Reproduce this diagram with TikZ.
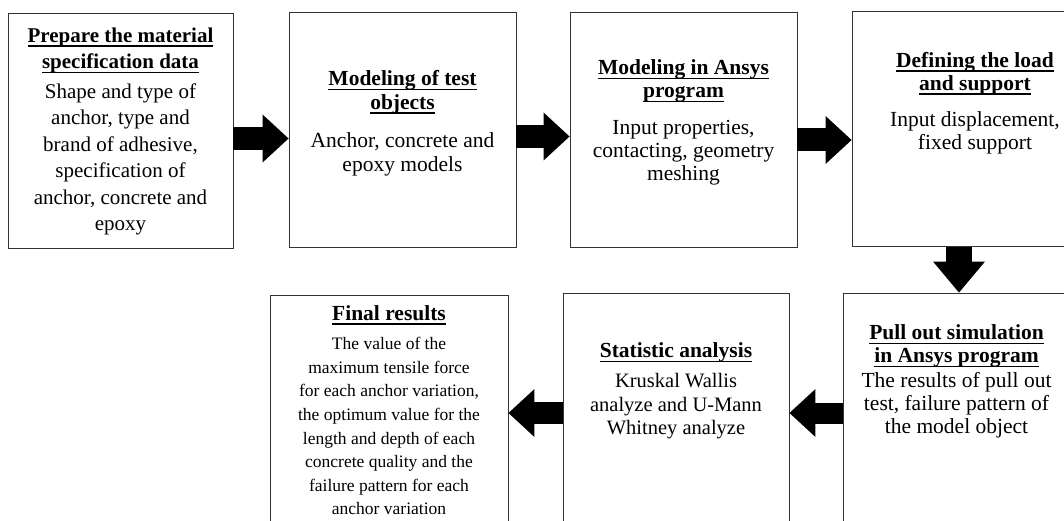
\documentclass[tikz,border=0pt]{standalone}
\usepackage{fontspec}
\setmainfont{Liberation Serif}
\usetikzlibrary{arrows.meta,positioning}

\newsavebox{\hdbox}
\newcommand{\hdline}[1]{\sbox\hdbox{\bfseries #1}\rlap{\rule[-4.5pt]{\wd\hdbox}{1.5pt}}\usebox\hdbox}

\tikzset{
  stepbox/.style={draw=black!80, line width=0.9pt, minimum height=235pt, inner sep=0pt},
  steptext/.style={align=center, inner sep=0pt},
  blockarrow/.style={line width=23pt, -{Triangle[length=26pt,width=48pt,line width=0pt]}},
}

\begin{document}
\begin{tikzpicture}[x=1pt,y=-1pt]
\clip (0,0) rectangle (1064,521);
\node[stepbox, minimum width=225pt] (prep) at (120.5,130.5) {};
\node[stepbox, minimum width=227pt] (model) at (402.5,129.5) {};
\node[stepbox, minimum width=227pt] (ansys) at (683.5,129.5) {};
\node[stepbox, minimum width=246pt] (load) at (975,129) {};
%============
\node[stepbox, minimum width=227pt] (pull) at (956.5,410.5) {};
\node[stepbox, minimum width=226pt] (stat) at (676,410.5) {};
\node[stepbox, minimum width=238pt] (final) at (389,412.5) {};
%============
\node[steptext, font=\fontsize{21}{26.5}\selectfont, below=15pt of prep.north] (prep-t) {\hdline{Prepare the material}\\\hdline{specification data}\\[3pt]Shape and type of\\anchor, type and\\brand of adhesive,\\specification of\\anchor, concrete and\\epoxy};
\node[steptext, font=\fontsize{21.5}{23.5}\selectfont, below=59pt of model.north] (model-t) {\hdline{Modeling of test}\\\hdline{objects}\\[15pt]Anchor, concrete and\\epoxy models};
\node[steptext, font=\fontsize{21.5}{23}\selectfont, below=48pt of ansys.north] (ansys-t) {\hdline{Modeling in Ansys}\\\hdline{program}\\[14pt]Input properties,\\contacting, geometry\\meshing};
\node[steptext, font=\fontsize{21.5}{23}\selectfont, below=41pt of load.north] (load-t) {\hdline{Defining the load}\\\hdline{and support}\\[13pt]Input displacement,\\fixed support};
\node[steptext, font=\fontsize{21.5}{23}\selectfont, below=32pt of pull.north] (pull-t) {\hdline{Pull out simulation}\\\hdline{in Ansys program}\\[2pt]The results of pull out\\test, failure pattern of\\the model object};
\node[steptext, font=\fontsize{20.5}{23.5}\selectfont, below=50pt of stat.north] (stat-t) {{\fontsize{21.5}{23.5}\selectfont\hdline{Statistic analysis}}\\[6.5pt]Kruskal Wallis\\analyze and U-Mann\\Whitney analyze};
\node[steptext, font=\fontsize{17.5}{23.6}\selectfont, below=10.5pt of final.north] (final-t) {{\fontsize{21.5}{24}\selectfont\hdline{Final results}}\\[6pt]The value of the\\maximum tensile force\\for each anchor variation,\\the optimum value for the\\length and depth of each\\concrete quality and the\\failure pattern for each\\anchor variation};
%==========

\draw[blockarrow] ([yshift=-8pt]prep.east) -- ([yshift=-8pt]prep.east -| model.west);
\draw[blockarrow] ([yshift=-7pt]model.east) -- ([yshift=-7pt]model.east -| ansys.west);
\draw[blockarrow] ([yshift=-10.5pt]ansys.east) -- ([yshift=-10.5pt]ansys.east -| load.west);
\draw[blockarrow, line width=26pt, -{Triangle[length=31pt,width=52pt,line width=0pt]}] ([xshift=-16pt]load.south) -- ([xshift=-16pt]load.south |- pull.north);
\draw[blockarrow, line width=21pt] ([yshift=-2.5pt]pull.west) -- ([yshift=-2.5pt]pull.west -| stat.east);
\draw[blockarrow, line width=22pt] ([yshift=-2.5pt]stat.west) -- ([yshift=-2.5pt]stat.west -| final.east);

\end{tikzpicture}
\end{document}
